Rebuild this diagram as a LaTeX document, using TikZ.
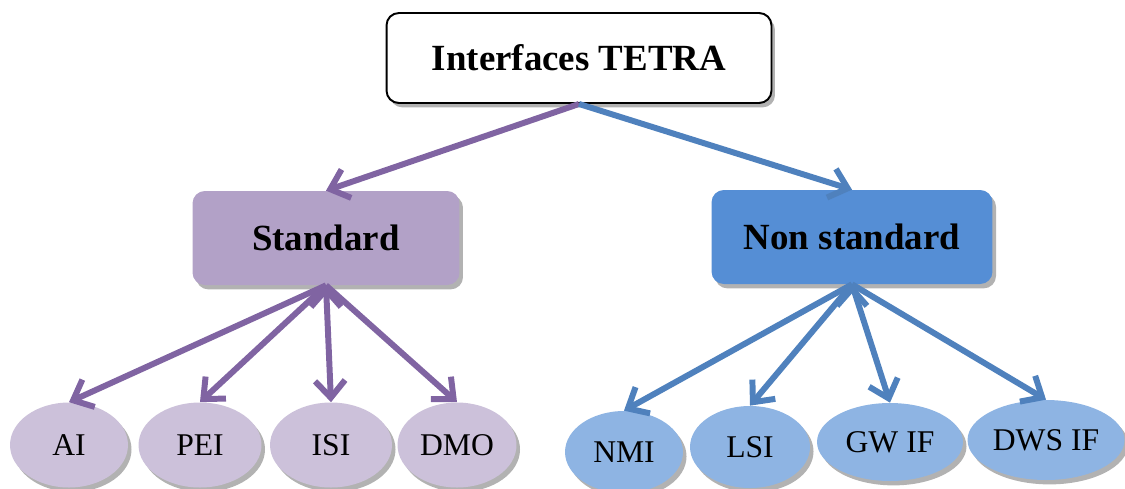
\documentclass[tikz,border=0pt]{standalone}
\usepackage{fontspec}
\setmainfont{Liberation Serif}
\usetikzlibrary{%
  shapes.geometric,%
  arrows.meta,%
  shadows%
}
\definecolor{stdfill}{HTML}{B2A1C7}
\definecolor{nstdfill}{HTML}{558ED5}
\definecolor{stdleaf}{HTML}{CCC1DA}
\definecolor{nstdleaf}{HTML}{8EB4E3}
\definecolor{stdline}{HTML}{8064A2}
\definecolor{nstdline}{HTML}{4F81BD}
\tikzset{
  softshadow/.style={drop shadow={shadow xshift=2pt,shadow yshift=-2.5pt,opacity=.3,fill=black}},
  rootbox/.style={draw=black,line width=1.1pt,fill=white,rounded corners=7pt,
    inner sep=0pt,minimum width=7.7cm,minimum height=1.8cm,
    font=\fontsize{21}{25}\selectfont\bfseries,softshadow},
  groupbox/.style={rounded corners=7pt,inner sep=0pt,minimum height=1.88cm,
    font=\fontsize{21}{25}\selectfont\bfseries,softshadow},
  leaf/.style={ellipse,inner sep=0pt,font=\fontsize{18}{21}\selectfont,softshadow},
  tip/.style={-{Straight Barb[length=0.34cm,width=0.6cm,line join=miter]},line width=3.4pt}
}

\begin{document}
\begin{tikzpicture}[x=0.02cm,y=-0.02cm]
\useasboundingbox (0,0) rectangle (1125,488);
% top of the tree
\node[rootbox] (root) at (579,58) {Interfaces TETRA};
\node[groupbox,fill=stdfill,minimum width=5.34cm] (std) at (326,238) {Standard};
\node[groupbox,fill=nstdfill,minimum width=5.62cm] (nstd) at (852,237) {Non standard};
% leaves
\node[leaf,fill=stdleaf,minimum width=2.36cm,minimum height=1.7cm] (ai) at (69,445) {AI};
\node[leaf,fill=stdleaf,minimum width=2.46cm,minimum height=1.7cm] (pei) at (200,445) {PEI};
\node[leaf,fill=stdleaf,minimum width=2.44cm,minimum height=1.7cm] (isi) at (331,445) {ISI};
\node[leaf,fill=stdleaf,minimum width=2.38cm,minimum height=1.7cm] (dmo) at (457,445) {DMO};
\node[leaf,fill=nstdleaf,minimum width=2.36cm,minimum height=1.64cm] (nmi) at (624,452) {NMI};
\node[leaf,fill=nstdleaf,minimum width=2.4cm,minimum height=1.64cm] (lsi) at (750,447) {LSI};
\node[leaf,fill=nstdleaf,minimum width=2.92cm,minimum height=1.56cm] (gwif) at (890,442) {GW IF};
\node[leaf,fill=nstdleaf,minimum width=3.14cm,minimum height=1.6cm] (dwsif) at (1046,440) {DWS IF};
% connectors
\draw[tip,stdline] (root.south) edge (std.north)
          (std.south) edge (ai.north)
          (std.south) edge (pei.north)
          (std.south) edge (isi.north)
          (std.south) edge (dmo.north)
;
\draw[tip,nstdline] (root.south) edge (nstd.north)
          (nstd.south) edge (nmi.north)
          (nstd.south) edge (lsi.north)
          (nstd.south) edge (gwif.north)
          (nstd.south) edge (dwsif.north)
;
\end{tikzpicture}
\end{document}
